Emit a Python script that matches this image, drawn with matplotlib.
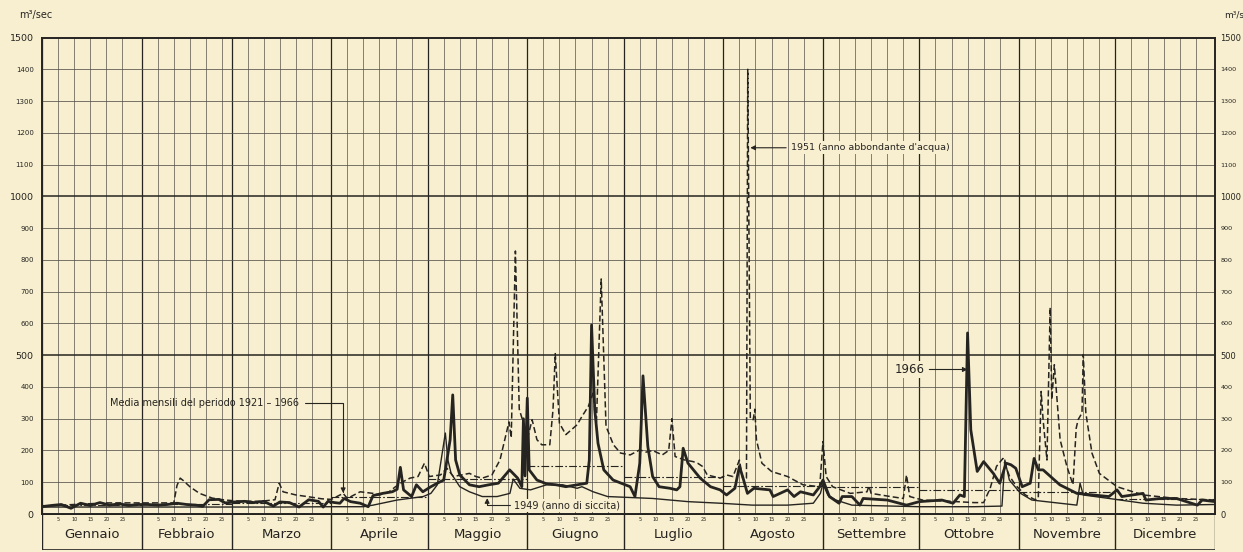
import numpy as np
import matplotlib.pyplot as plt

months = ['Gennaio', 'Febbraio', 'Marzo', 'Aprile', 'Maggio', 'Giugno',
          'Luglio', 'Agosto', 'Settembre', 'Ottobre', 'Novembre', 'Dicembre']
month_days = [31, 28, 31, 30, 31, 30, 31, 31, 30, 31, 30, 31]
# media mensili 1921-1966 (m3/sec)
month_mean = [28, 30, 35, 53, 110, 152, 116, 88, 84, 76, 70, 48]

# 1966 (linea grossa): giorno dell'anno, portata
days_1966 = [0, 3, 6, 9, 12, 15, 18, 21, 24, 27, 30, 33, 36, 39, 42, 45, 48, 50, 52, 55,
             57, 60, 63, 66, 69, 72, 74, 77, 80, 83, 86, 87.5, 89, 91, 92.7, 94, 96, 99, 101.5, 103,
             106, 109, 110.5, 111.5, 112.5, 115, 116.5, 118.5, 121, 123, 125, 127, 127.8, 128.7, 130, 133,
             136, 139, 142, 145.5, 148, 149.3, 149.8, 150.3, 151, 151.6, 154, 157, 160, 163,
             166.5, 169.5, 170.3, 171, 172, 173, 174.8, 177.7, 183, 184.5, 186, 187, 188.5, 190,
             192, 195.4, 197.5, 198.5, 199.5, 201, 204.8, 208, 211, 213, 215.6, 217, 218, 219.5,
             221.5, 226.5, 227.5, 232, 234, 236, 240, 242, 243, 245, 248, 249, 252, 254.5,
             255.5, 263, 269, 273, 280, 283.5, 285.6, 287, 288, 289, 291, 293, 296, 298,
             300, 301.5, 303, 305, 307.5, 308.7, 310, 311.5, 316.7, 322, 327, 332, 334.5, 336,
             342.6, 343.5, 348, 353, 359.5, 361, 365]
q_1966 = [23, 27, 30, 18, 34, 27, 36, 28, 32, 27, 30, 30, 28, 30, 34, 30, 28, 24, 45, 46,
          35, 38, 40, 36, 40, 25, 38, 36, 22, 45, 40, 22, 40, 36, 34, 49, 39, 34, 23, 58,
          65, 70, 78, 147, 76, 55, 92, 70, 86, 97, 107, 234, 375, 170, 123, 92,
          86, 92, 97, 139, 113, 86, 300, 120, 365, 139, 107, 95, 92, 86,
          92, 97, 170, 595, 328, 223, 139, 107, 86, 55, 160, 435, 213, 118,
          86, 81, 76, 86, 207, 160, 113, 86, 76, 60, 81, 150, 118, 65,
          81, 76, 55, 76, 55, 70, 60, 86, 107, 55, 34, 55, 55, 28,
          49, 44, 28, 39, 44, 34, 60, 55, 570, 265, 134, 165, 128, 97,
          160, 155, 144, 86, 97, 175, 139, 139, 92, 65, 60, 55, 76, 55,
          65, 44, 49, 49, 28, 44, 39]

# 1949 (anno di siccita, linea sottile)
days_1949 = [0, 15, 31, 45, 59, 75, 90, 100, 103, 110.5, 118.6, 121, 123, 125.5, 126.3, 127.3,
             130, 133, 137, 141.6, 145.6, 146.6, 148.7, 152, 157, 162, 166.5, 168, 171.5, 176,
             183, 190, 201, 211, 221, 232, 240, 242.2, 243, 244.5, 247, 252, 273, 290, 298.7,
             299.6, 301, 304.5, 308, 316.7, 322, 323, 324, 332, 342.6, 353, 365]
q_1949 = [22, 22, 22, 22, 22, 22, 23, 23, 28, 44, 55, 65, 92, 255, 170, 128,
          86, 70, 55, 55, 65, 110, 81, 76, 92, 92, 81, 86, 70, 55,
          52, 49, 39, 34, 28, 28, 34, 65, 95, 60, 44, 28, 23, 23, 25,
          170, 107, 65, 44, 34, 28, 97, 60, 49, 34, 28, 30]

# 1951 (anno abbondante d'acqua, tratteggio)
days_1951 = [0, 10, 20, 31, 41, 42, 43, 44, 46, 49, 53, 57, 62, 68, 72.5, 73.8, 75, 79, 82.5, 87,
             90, 93.7, 95, 99, 103, 105, 108, 110, 112, 114.5, 117, 119, 120.5, 124, 126, 128,
             133, 135, 137, 140, 142.5, 144.5, 145.3, 146, 147.3, 148.5, 150, 151, 152.5, 154,
             155.5, 158, 159, 159.7, 161, 163, 166.5, 168, 170, 171.5, 172.5, 174, 175.5, 177.8,
             180, 183, 186, 188, 190, 193, 195, 196, 197, 200, 202.6, 204, 205.5, 207, 211, 213,
             215, 217, 218, 219.2, 219.6, 220.4, 221.3, 221.8, 222.3, 224, 227, 232, 234, 236.8,
             242, 243, 244, 246, 251.5, 256.7, 257.3, 258, 264, 268, 269, 270, 274, 282.5, 290,
             293, 295, 297, 299, 301, 303, 306, 309, 310, 310.9, 311.5, 312.7, 313.7, 314.2, 315,
             316.8, 318.9, 320.8, 321.8, 322.4, 323.6, 324, 324.8, 326.7, 329, 334.5, 342.6, 353, 365]
q_1951 = [25, 30, 35, 35, 35, 90, 113, 105, 86, 65, 50, 44, 40, 40, 45, 97, 70, 60, 55, 48,
          46, 65, 49, 70, 65, 60, 70, 86, 100, 113, 118, 160, 118, 123, 144, 118,
          128, 118, 113, 123, 170, 255, 290, 240, 828, 330, 280, 235, 297, 234,
          218, 218, 328, 505, 286, 250, 281, 307, 339, 381, 286, 740, 276, 218,
          192, 186, 202, 195, 200, 186, 200, 300, 181, 170, 165, 160, 150, 123, 113, 123,
          118, 170, 113, 113, 1400, 300, 297, 330, 234, 160, 134, 118, 107, 92,
          86, 228, 118, 86, 65, 70, 88, 65, 55, 49, 123, 55, 44, 40, 36,
          36, 80, 150, 175, 120, 90, 60, 45, 50, 386, 297, 170, 650, 360, 470,
          234, 150, 92, 270, 297, 318, 502, 318, 192, 128, 86, 60, 49, 44]

paper = '#f7efcf'
ink = '#262421'
grey = '#55514a'

fig = plt.figure(figsize=(12.43, 5.52), dpi=100, facecolor=paper)
ax = fig.add_axes([0.0338, 0.0688, 0.9437, 0.8632], facecolor=paper)
band = fig.add_axes([0.0338, 0.0036, 0.9437, 0.0652], facecolor=paper)

starts = np.concatenate([[0], np.cumsum(month_days)])

# griglia
for s, n in zip(starts[:-1], month_days):
    for d in range(5, n, 5):
        if n - d >= 3:
            ax.axvline(s + d, color=grey, lw=0.5, zorder=1)
for s in starts:
    ax.axvline(s, color=ink, lw=0.9, zorder=1)
for v in range(100, 1500, 100):
    if v % 500 == 0:
        ax.axhline(v, color=ink, lw=1.1, zorder=1)
    else:
        ax.axhline(v, color=grey, lw=0.55, zorder=1)

# medie mensili
for s, e, m in zip(starts[:-1], starts[1:], month_mean):
    ax.hlines(m, s, e, color=ink, lw=0.8, linestyles=(0, (7, 2, 1.5, 2)), zorder=2)

ax.plot(days_1949, q_1949, color=ink, lw=1.0, zorder=3)
ax.plot(days_1951, q_1951, color=ink, lw=1.1, ls=(0, (4, 2)), zorder=3)
ax.plot(days_1966, q_1966, color=ink, lw=2.0, zorder=4, solid_joinstyle='round')

ax.set_xlim(0, 365)
ax.set_ylim(0, 1500)
ax.set_xticks([])
yt = list(range(0, 1600, 100))
ax.set_yticks(yt)
ax.set_yticklabels([str(v) for v in yt])
ax.tick_params(axis='y', length=0, pad=6, labelleft=True, labelright=False, colors=ink)
for lab in ax.get_yticklabels():
    lab.set_fontsize(6.8 if int(lab.get_text()) % 500 == 0 else 5)

# etichette a destra
axr = ax.twinx()
axr.set_ylim(0, 1500)
axr.set_yticks(yt)
axr.set_yticklabels([str(v) for v in yt])
axr.tick_params(axis='y', length=0, pad=4, colors=ink)
for lab in axr.get_yticklabels():
    lab.set_fontsize(6.0 if int(lab.get_text()) % 500 == 0 else 4.6)
for a in (ax, axr):
    for sp in a.spines.values():
        sp.set_color(ink)
        sp.set_linewidth(1.2)

# annotazioni
ap = dict(arrowstyle='-|>', color=ink, lw=0.8, mutation_scale=7, shrinkA=2, shrinkB=0)
ax.annotate('Media mensili del periodo 1921 – 1966', xy=(93.7, 66), xytext=(80, 350),
            ha='right', va='center', fontsize=7, color=ink,
            arrowprops=dict(ap, connectionstyle='angle,angleA=0,angleB=90,rad=0'))
ax.annotate('1949 (anno di siccita)', xy=(138.5, 50), xytext=(147, 27),
            ha='left', va='center', fontsize=7, color=ink,
            bbox=dict(boxstyle='square,pad=0.15', fc=paper, ec='none'),
            arrowprops=dict(ap, connectionstyle='angle,angleA=0,angleB=90,rad=0'))
ax.annotate('1951 (anno abbondante d\'acqua)', xy=(220.4, 1153), xytext=(233, 1153),
            ha='left', va='center', fontsize=6.8, color=ink,
            bbox=dict(boxstyle='square,pad=0.2', fc=paper, ec='none'),
            arrowprops=ap)
ax.annotate('1966', xy=(288, 455), xytext=(274.5, 455),
            ha='right', va='center', fontsize=8.5, color=ink,
            bbox=dict(boxstyle='square,pad=0.2', fc=paper, ec='none'),
            arrowprops=ap)

fig.text(0.015, 0.972, 'm³/sec', fontsize=7, color=ink, va='center')
fig.text(0.985, 0.972, 'm³/sec', fontsize=6.5, color=ink, va='center')

# fascia dei mesi
band.set_xlim(0, 365)
band.set_ylim(0, 1)
band.axis('off')
band.axhline(1, color=ink, lw=1.2)
band.axhline(0.0, color=ink, lw=1.2)
for s in starts:
    band.axvline(s, color=ink, lw=1.0)
for s, n, name in zip(starts[:-1], month_days, months):
    for d in range(5, n, 5):
        if n - d >= 3:
            band.text(s + d, 0.86, str(d), fontsize=3.5, ha='center', va='center', color=ink)
    band.text(s + n / 2, 0.42, name, fontsize=9.5, ha='center', va='center', color=ink)

fig.savefig('out.png', dpi=100, facecolor=paper)
